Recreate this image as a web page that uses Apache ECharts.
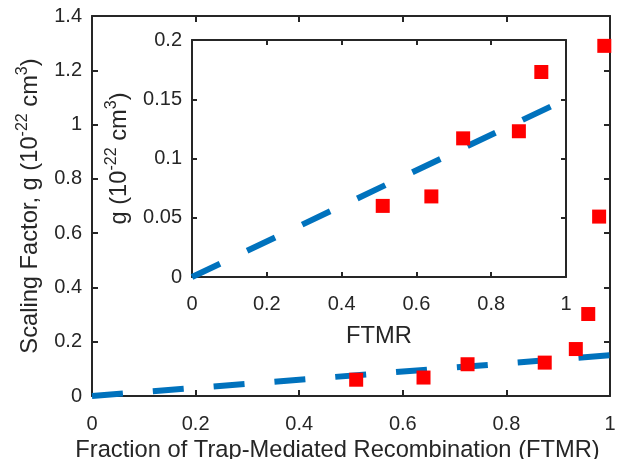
<!DOCTYPE html>
<html>
<head>
<meta charset="utf-8">
<script src="https://cdn.jsdelivr.net/npm/echarts@6/dist/echarts.min.js"></script>
<style>
html,body{margin:0;padding:0;background:#fff;}
#c{width:627px;height:459px;}
</style>
</head>
<body>
<div id="c"></div>
<script>
// Measured data (FTMR vs scaling factor g, in 1e-22 cm^3)
const ftmr = [0.51, 0.64, 0.725, 0.874, 0.934, 0.958, 0.979, 0.989];
const gVal = [0.06, 0.068, 0.117, 0.123, 0.173, 0.302, 0.661, 1.29];
// Linear fit line endpoints
const fitX = [0, 1];
const fitY = [0, 0.15];
// Axis ranges / tick steps
const mainX = {min: 0, max: 1, step: 0.2};
const mainY = {min: 0, max: 1.4, step: 0.2};
const insetX = {min: 0, max: 1, step: 0.2};
const insetY = {min: 0, max: 0.2, step: 0.05};

const FONT = 'Liberation Sans, Arial, sans-serif';
const INK = '#262626';
const TICK_FS = 20;
const TITLE_FS = 23.7;

const scatterData = ftmr.map((x, i) => [x, gVal[i]]);
const fitData = fitX.map((x, i) => [x, fitY[i]]);

function axis(kind, gridIndex, range, pos, opts) {
  const o = opts || {};
  return Object.assign({
    type: 'value', gridIndex: gridIndex, position: pos,
    min: range.min, max: range.max, interval: range.step,
    z: o.z || 0,
    axisLine: {show: true, onZero: false, lineStyle: {color: INK, width: 2}},
    axisTick: {show: true, inside: true, length: o.tickLen || 6, lineStyle: {color: INK, width: 2}},
    splitLine: {show: false},
    axisLabel: {show: !!o.labels, color: INK, fontSize: TICK_FS, fontFamily: FONT, margin: o.margin || 10}
  }, o.extra || {});
}

const titleStyle = {color: INK, fontSize: TITLE_FS, fontFamily: FONT};
const richStyle = {
  n: {fontSize: TITLE_FS, fontFamily: FONT, color: INK, lineHeight: 30},
  s: {fontSize: 16, fontFamily: FONT, color: INK, lineHeight: 30, verticalAlign: 'top', padding: [0,0,0,0]}
};

const option = {
  backgroundColor: '#fff',
  animation: false,
  grid: [
    {left: 92, top: 16, width: 518, height: 380, show: false, outerBoundsMode: 'none', containLabel: false},
    {left: 192, top: 40, width: 374, height: 237, show: true, backgroundColor: '#fff', borderWidth: 0, z: 5, outerBoundsMode: 'none', containLabel: false}
  ],
  xAxis: [
    axis('x', 0, mainX, 'bottom', {labels: true, margin: 18, extra: {
      name: 'Fraction of Trap-Mediated Recombination (FTMR)', nameLocation: 'middle', nameGap: 41,
      nameTextStyle: Object.assign({padding: [0, 27, 0, 0]}, titleStyle)}}),
    axis('x', 0, mainX, 'top', {}),
    axis('x', 1, insetX, 'bottom', {labels: true, margin: 17, tickLen: 5, z: 6, extra: {
      name: 'FTMR', nameLocation: 'middle', nameGap: 47, nameTextStyle: titleStyle}}),
    axis('x', 1, insetX, 'top', {tickLen: 5, z: 6})
  ],
  yAxis: [
    axis('y', 0, mainY, 'left', {labels: true, margin: 10, extra: {
      name: '{n|Scaling Factor, g (10}{s|-22}{n| cm}{s|3}{n|)}', nameLocation: 'middle', nameGap: 47,
      nameTextStyle: {rich: richStyle}}}),
    axis('y', 0, mainY, 'right', {}),
    axis('y', 1, insetY, 'left', {labels: true, margin: 10, tickLen: 5, z: 6, extra: {
      name: '{n|g (10}{s|-22}{n| cm}{s|3}{n|)}', nameLocation: 'middle', nameGap: 58,
      nameTextStyle: {rich: richStyle}}}),
    axis('y', 1, insetY, 'right', {tickLen: 5, z: 6})
  ],
  series: [
    {type: 'line', xAxisIndex: 0, yAxisIndex: 0, data: fitData, showSymbol: false, clip: false, z: 2,
     lineStyle: {color: '#0072BD', width: 6, type: [31, 30], cap: 'butt'}},
    {type: 'scatter', xAxisIndex: 0, yAxisIndex: 0, data: scatterData, symbol: 'rect', symbolSize: 14, z: 3,
     itemStyle: {color: '#FF0000', opacity: 1}},
    {type: 'line', xAxisIndex: 2, yAxisIndex: 2, data: fitData, showSymbol: false, clip: false, z: 7,
     lineStyle: {color: '#0072BD', width: 6, type: [31, 30], cap: 'butt'}},
    {type: 'scatter', xAxisIndex: 2, yAxisIndex: 2, data: scatterData, symbol: 'rect', symbolSize: 14, clip: true, z: 8,
     itemStyle: {color: '#FF0000', opacity: 1}}
  ]
};

const chart = echarts.init(document.getElementById('c'), null, {renderer: 'canvas'});
chart.setOption(option);
</script>
</body>
</html>
